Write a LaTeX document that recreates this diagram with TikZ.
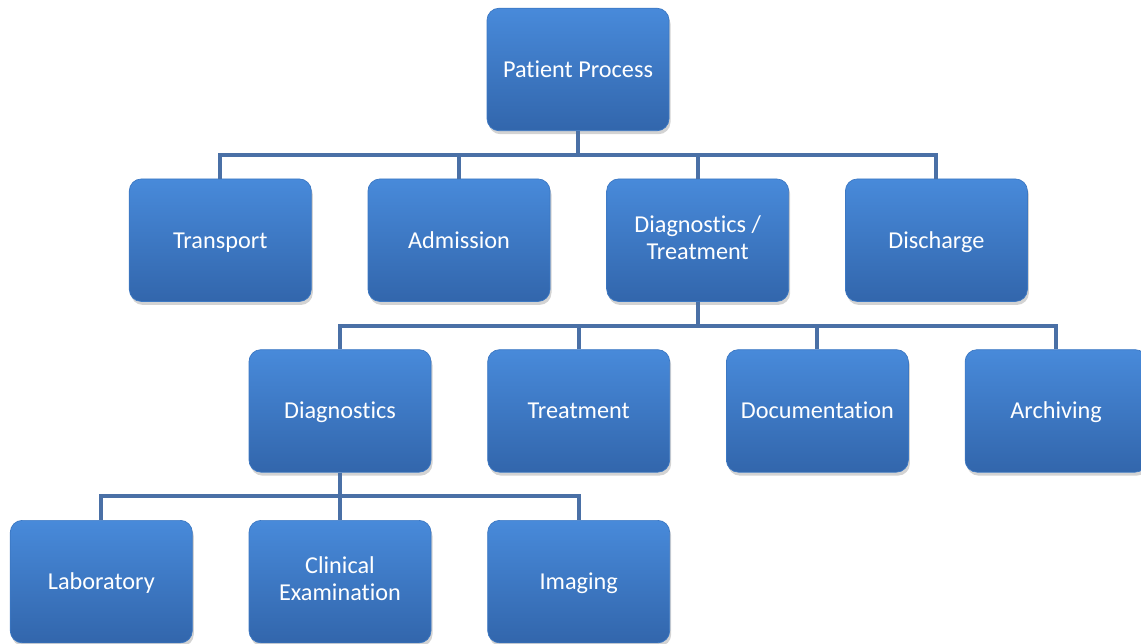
\documentclass[tikz,border=0pt]{standalone}
\usepackage{fontspec}
\setmainfont[Ligatures={NoCommon}]{Carlito}
\usepackage{tikz}
\usetikzlibrary{positioning,shadows}

\definecolor{boxtop}{RGB}{72,138,218}
\definecolor{boxbottom}{RGB}{50,102,172}
\definecolor{boxedge}{RGB}{60,120,195}
\definecolor{linkblue}{RGB}{74,112,166}

\newcommand{\boxstrut}{\rule[-3.2pt]{0pt}{15.5pt}}

\begin{document}
\begin{tikzpicture}[
      procbox/.style={
         rectangle,
         rounded corners=0.24cm,
         draw=boxedge,
         line width=0.4pt,
         top color=boxtop,
         bottom color=boxbottom,
         drop shadow={opacity=0.35,shadow xshift=0.03cm,shadow yshift=-0.07cm},
         text=white,
         align=center,
         inner sep=0pt,
         minimum width=3.64cm,
         minimum height=2.45cm,
         execute at begin node=\boxstrut,
         execute at end node=\boxstrut,
         font=\fontsize{13.8}{15.5}\selectfont},
      link/.style={draw=linkblue,line width=0.08cm},
      node distance=0.95cm and 1.12cm
      ]
      \useasboundingbox (0,0) rectangle (22.82,-12.88);

      \node[procbox] (top) at (11.56,-1.39) {Patient Process};

      % second row
      \node[procbox,below=of top,xshift=-2.38cm] (adm) {Admission};
      \node[procbox,left=of adm] (trans) {Transport};
      \node[procbox,right=of adm] (diagtreat) {Diagnostics /\\Treatment};
      \node[procbox,right=of diagtreat] (disc) {Discharge};

      % third row
      \node[procbox,below=of diagtreat,xshift=-2.38cm] (treat) {Treatment};
      \node[procbox,left=of treat] (diag) {Diagnostics};
      \node[procbox,right=of treat] (docu) {Documentation};
      \node[procbox,right=of docu] (arch) {Archiving};

      % fourth row
      \node[procbox,below=of diag] (clin) {Clinical\\Examination};
      \node[procbox,left=of clin] (lab) {Laboratory};
      \node[procbox,right=of clin] (img) {Imaging};

      \foreach \p/\c in {top/trans,top/adm,top/diagtreat,top/disc,
                         diagtreat/diag,diagtreat/treat,diagtreat/docu,diagtreat/arch,
                         diag/lab,diag/clin,diag/img}
         \draw[link] (\p.south) -- ++(0,-0.475) -| (\c.north);
    \end{tikzpicture}
\end{document}
